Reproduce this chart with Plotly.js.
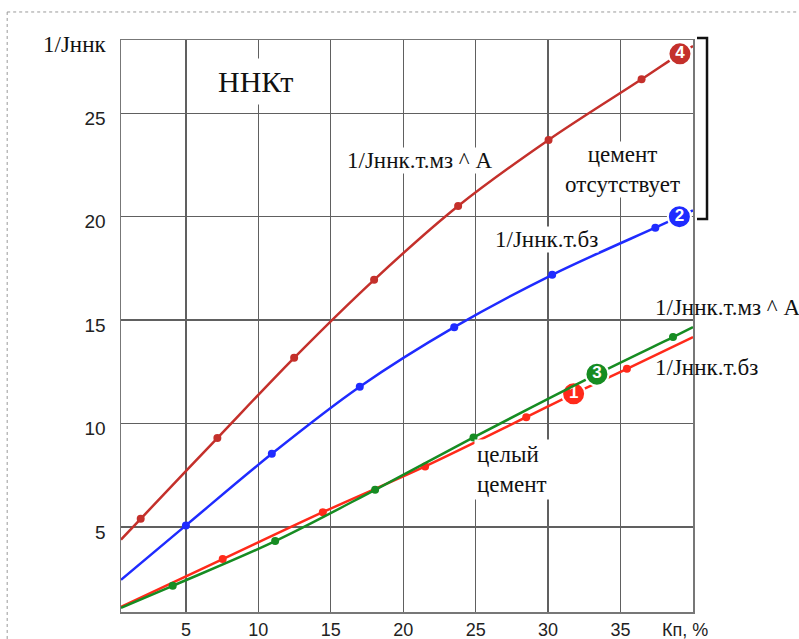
<!DOCTYPE html>
<html>
<head>
<meta charset="utf-8">
<script src="https://cdn.plot.ly/plotly-3.0.1.min.js"></script>
<style>html,body{margin:0;padding:0;background:#fff;}#chart{width:799px;height:639px;}</style>
</head>
<body>
<div id="chart"></div>
<script>
// ---- data ----
const xTicks = [5, 10, 15, 20, 25, 30, 35];
const yTicks = [5, 10, 15, 20, 25];

// curve 4 : 1/Jннк.т.мз ^ A (cement absent)
const c4_x = [1.88, 7.17, 12.47, 17.99, 23.79, 30.03, 36.45];
const c4_y = [5.4, 9.3, 13.18, 16.95, 20.52, 23.71, 26.64];
const c4_start = [0.52, 4.39];
const c4_end = [40, 28.25];
const c4_badge = [39.1, 27.87];

// curve 2 : 1/Jннк.т.бз (cement absent)
const c2_x = [5.0, 10.93, 17.0, 23.52, 30.28, 37.4];
const c2_y = [5.08, 8.54, 11.78, 14.66, 17.19, 19.47];
const c2_start = [0.52, 2.45];
const c2_end = [40, 20.3];
const c2_badge = [39.06, 20.0];

// curve 1 : 1/Jннк.т.бз (whole cement)
const c1_x = [7.54, 14.45, 21.51, 28.49, 35.44];
const c1_y = [3.45, 5.72, 7.93, 10.31, 12.65];
const c1_start = [0.52, 1.14];
const c1_end = [40, 14.18];
const c1_badge = [31.76, 11.44];

// curve 3 : 1/Jннк.т.мз ^ A (whole cement)
const c3_x = [4.09, 11.16, 18.06, 24.85, 38.62];
const c3_y = [2.16, 4.32, 6.80, 9.33, 14.18];
const c3_start = [0.52, 1.09];
const c3_end = [40, 14.66];
const c3_badge = [33.37, 12.39];

const badgeLabels = ['4', '2', '1', '3'];

// ---- styles ----
const colors = {c4: '#c4302b', c2: '#1f2bff', c1: '#ff2a1a', c3: '#168c22'};
const serif = 'Liberation Serif, Times New Roman, serif';
const sans = 'Liberation Sans, Arial, sans-serif';

function linePts(xs, ys, start, end, badge) {
  const pts = [start].concat(xs.map((x, i) => [x, ys[i]])).concat([badge, end]);
  pts.sort((a, b) => a[0] - b[0]);
  return {x: pts.map(p => p[0]), y: pts.map(p => p[1])};
}

function curveTraces(xs, ys, start, end, badge, color, label) {
  const lp = linePts(xs, ys, start, end, badge);
  return [
    {x: lp.x, y: lp.y, mode: 'lines', type: 'scatter', line: {color: color, width: 2.5, shape: 'spline', smoothing: 1}, hoverinfo: 'skip'},
    {x: xs, y: ys, mode: 'markers', type: 'scatter', marker: {color: color, size: 8}},
    {x: [badge[0]], y: [badge[1]], mode: 'markers+text', type: 'scatter', text: ['<b>' + label + '</b>'],
     textposition: 'middle center', textfont: {color: '#fff', size: 17, family: sans},
     marker: {color: color, size: 23, line: {color: '#fff', width: 2}}, cliponaxis: false}
  ];
}

const data = [].concat(
  curveTraces(c1_x, c1_y, c1_start, c1_end, c1_badge, colors.c1, badgeLabels[2]),
  curveTraces(c3_x, c3_y, c3_start, c3_end, c3_badge, colors.c3, badgeLabels[3]),
  curveTraces(c2_x, c2_y, c2_start, c2_end, c2_badge, colors.c2, badgeLabels[1]),
  curveTraces(c4_x, c4_y, c4_start, c4_end, c4_badge, colors.c4, badgeLabels[0])
);

const serifFont = {family: serif, size: 23, color: '#111'};
const tickFont = {family: sans, size: 19, color: '#222'};
const xTickFont = {family: sans, size: 18, color: '#222'};

const layout = {
  width: 799, height: 639,
  margin: {l: 121, r: 106, t: 40, b: 27},
  paper_bgcolor: '#fff', plot_bgcolor: '#fff',
  showlegend: false,
  xaxis: {
    range: [0.52, 40], tickvals: xTicks, ticktext: xTicks.map(String),
    showgrid: true, gridcolor: '#606060', gridwidth: 1.4, zeroline: false,
    showline: true, mirror: true, linecolor: '#777', linewidth: 1.5,
    ticks: '', tickfont: xTickFont, ticklabelstandoff: 1
  },
  yaxis: {
    range: [0.894, 28.54], tickvals: yTicks, ticktext: yTicks.map(String),
    showgrid: true, gridcolor: '#606060', gridwidth: 1.4, zeroline: false,
    showline: true, mirror: true, linecolor: '#777', linewidth: 1.5,
    ticks: '', tickfont: tickFont, ticklabelstandoff: 10, ticklabelshift: 5
  },
  annotations: [
    {xref: 'paper', yref: 'paper', x: -0.0227, y: 0.993, xanchor: 'right', yanchor: 'middle', text: '1/Jннк', showarrow: false, font: serifFont},
    {xref: 'paper', yref: 'paper', x: 0.2343, y: 0.928, xanchor: 'center', yanchor: 'middle', text: 'ННКт', showarrow: false, font: {family: serif, size: 30, color: '#111'}, bgcolor: '#fff', borderpad: 6},
    {x: 21.14, y: 22.74, xanchor: 'center', yanchor: 'middle', text: '1/Jннк.т.мз ^ A', showarrow: false, font: serifFont, bgcolor: '#fff', borderpad: 0},
    {x: 35.1, y: 22.26, xanchor: 'center', yanchor: 'middle', text: 'цемент<br>отсутствует', showarrow: false, font: serifFont, bgcolor: '#fff', borderpad: 0},
    {x: 29.9, y: 18.88, xanchor: 'center', yanchor: 'middle', text: '1/Jннк.т.бз', showarrow: false, font: serifFont, bgcolor: '#fff', borderpad: 0},
    {x: 24.86, y: 7.79, xanchor: 'left', yanchor: 'middle', align: 'left', text: 'целый<br>цемент', showarrow: false, font: serifFont, bgcolor: '#fff', borderpad: 2},
    {xref: 'paper', yref: 'paper', x: 0.930, y: 0.533, xanchor: 'left', yanchor: 'middle', text: '1/Jннк.т.мз ^ A', showarrow: false, font: serifFont},
    {xref: 'paper', yref: 'paper', x: 0.930, y: 0.428, xanchor: 'left', yanchor: 'middle', text: '1/Jннк.т.бз', showarrow: false, font: serifFont},
    {xref: 'paper', yref: 'paper', x: 0.986, y: -0.0315, xanchor: 'center', yanchor: 'middle', text: 'Кп, %', showarrow: false, font: xTickFont}
  ],
  shapes: [
    // outer dotted frame (top and left)
    {type: 'line', xref: 'paper', yref: 'paper', x0: -0.199, x1: 1.2, y0: 1.049, y1: 1.049, line: {color: '#999', width: 1, dash: 'dot'}},
    {type: 'line', xref: 'paper', yref: 'paper', x0: -0.199, x1: -0.199, y0: 1.049, y1: -0.06, line: {color: '#999', width: 1, dash: 'dot'}},
    // bracket for "cement absent"
    {type: 'path', xref: 'paper', yref: 'paper',
     path: 'M 1.0070,1.0035 L 1.0245,1.0035 L 1.0245,0.6871 L 1.0070,0.6871',
     line: {color: '#111', width: 2.5}}
  ]
};

Plotly.newPlot('chart', data, layout, {staticPlot: true});
</script>
</body>
</html>
